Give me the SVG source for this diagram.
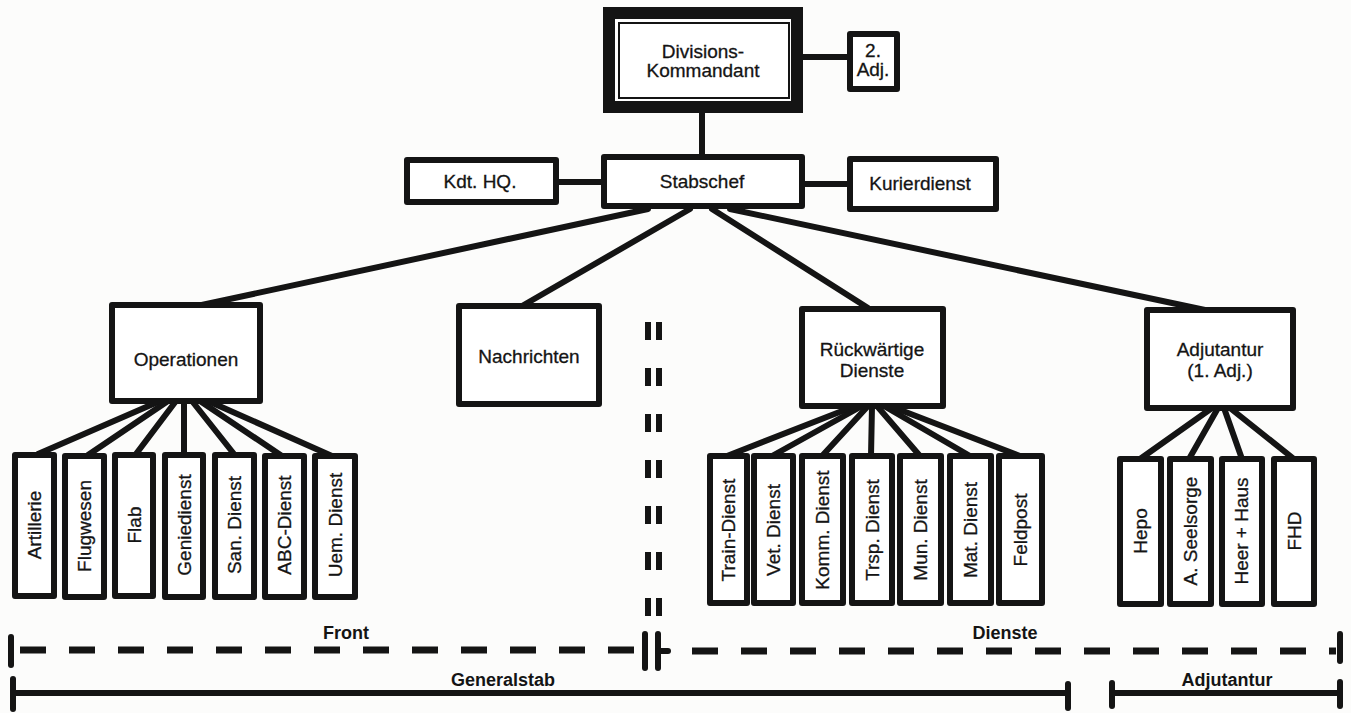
<svg xmlns="http://www.w3.org/2000/svg" width="1351" height="713" viewBox="0 0 1351 713">
<style>
.bg{fill:#fcfcfb}
.box{fill:#fff;stroke:#141414;stroke-width:6;stroke-linejoin:round}
.thick{fill:#fff;stroke:#141414;stroke-width:12}
.thin{fill:none;stroke:#141414;stroke-width:2}
.ln{stroke:#141414;stroke-width:6;stroke-linecap:round;fill:none}
.t{font-family:"Liberation Sans",Arial,sans-serif;font-size:19px;fill:#141414;stroke:#141414;stroke-width:0.3;text-anchor:middle}
.b{font-family:"Liberation Sans",Arial,sans-serif;font-size:18px;font-weight:bold;fill:#141414;text-anchor:middle}
.dash{stroke:#141414;stroke-width:7;fill:none;stroke-dasharray:26 23}
.bar{stroke:#141414;stroke-width:6;fill:none;stroke-linecap:round}
.sep{stroke:#141414;stroke-width:6;fill:none;stroke-dasharray:18 28}
</style>
<rect class="bg" x="0" y="0" width="1351" height="713"/>
<g id="connectors">
<line class="ln" x1="702" y1="112" x2="702" y2="155"/>
<line class="ln" x1="803" y1="57" x2="848" y2="57"/>
<line class="ln" x1="557" y1="182" x2="602" y2="182"/>
<line class="ln" x1="803" y1="184" x2="848" y2="184"/>
<line class="ln" x1="648" y1="209" x2="197" y2="306"/>
<line class="ln" x1="690" y1="209" x2="522" y2="306"/>
<line class="ln" x1="712" y1="209" x2="868" y2="308"/>
<line class="ln" x1="730" y1="209" x2="1205" y2="310"/>
<line class="ln" x1="160" y1="401" x2="38" y2="454"/>
<line class="ln" x1="168" y1="401" x2="88" y2="455"/>
<line class="ln" x1="176" y1="401" x2="136" y2="454"/>
<line class="ln" x1="184" y1="401" x2="184" y2="454"/>
<line class="ln" x1="192" y1="401" x2="234" y2="454"/>
<line class="ln" x1="200" y1="401" x2="282" y2="456"/>
<line class="ln" x1="208" y1="401" x2="332" y2="456"/>
<line class="ln" x1="855" y1="406" x2="727" y2="456"/>
<line class="ln" x1="862" y1="406" x2="772" y2="456"/>
<line class="ln" x1="868" y1="406" x2="822" y2="456"/>
<line class="ln" x1="872" y1="406" x2="871" y2="456"/>
<line class="ln" x1="877" y1="406" x2="920" y2="456"/>
<line class="ln" x1="884" y1="406" x2="970" y2="456"/>
<line class="ln" x1="890" y1="406" x2="1020" y2="456"/>
<line class="ln" x1="1212" y1="408" x2="1140" y2="459"/>
<line class="ln" x1="1218" y1="408" x2="1189" y2="459"/>
<line class="ln" x1="1224" y1="408" x2="1242" y2="459"/>
<line class="ln" x1="1230" y1="408" x2="1294" y2="459"/>
</g>
<g id="divkdt">
<rect class="thick" x="609" y="13" width="188" height="94"/>
<rect class="thin" x="619" y="23" width="170" height="75"/>
<text class="t" x="703" y="58">Divisions-</text>
<text class="t" x="703" y="77">Kommandant</text>
</g>
<g id="adj2">
<rect class="box" x="850" y="34" width="47" height="55"/>
<text class="t" x="873" y="57">2.</text>
<text class="t" x="873" y="76">Adj.</text>
</g>
<g id="stabschef">
<rect class="box" x="604" y="157" width="198" height="49"/>
<text class="t" x="702" y="188">Stabschef</text>
</g>
<g id="kdthq">
<rect class="box" x="407" y="160" width="149" height="42"/>
<text class="t" x="480" y="188">Kdt. HQ.</text>
</g>
<g id="kurier">
<rect class="box" x="850" y="159" width="146" height="50"/>
<text class="t" x="920" y="190">Kurierdienst</text>
</g>
<g id="operationen">
<rect class="box" x="112" y="305" width="148" height="96"/>
<text class="t" x="186" y="366">Operationen</text>
</g>
<g id="nachrichten">
<rect class="box" x="459" y="306" width="140" height="98"/>
<text class="t" x="529" y="363">Nachrichten</text>
</g>
<g id="rueckw">
<rect class="box" x="802" y="309" width="141" height="97"/>
<text class="t" x="872" y="356">Rückwärtige</text>
<text class="t" x="872" y="377">Dienste</text>
</g>
<g id="adjutantur">
<rect class="box" x="1147" y="310" width="146" height="98"/>
<text class="t" x="1220" y="356">Adjutantur</text>
<text class="t" x="1220" y="377">(1. Adj.)</text>
</g>
<g id="artillerie"><rect class="box" x="15" y="455" width="39" height="141"/><text class="t" transform="translate(41,525) rotate(-90)">Artillerie</text></g>
<g id="flugwesen"><rect class="box" x="65" y="456" width="39" height="141"/><text class="t" transform="translate(91,526) rotate(-90)">Flugwesen</text></g>
<g id="flab"><rect class="box" x="115" y="455" width="38" height="141"/><text class="t" transform="translate(141,525) rotate(-90)">Flab</text></g>
<g id="genie"><rect class="box" x="165" y="455" width="38" height="142"/><text class="t" transform="translate(191,525) rotate(-90)">Geniedienst</text></g>
<g id="san"><rect class="box" x="215" y="455" width="39" height="142"/><text class="t" transform="translate(241,525) rotate(-90)">San. Dienst</text></g>
<g id="abc"><rect class="box" x="265" y="456" width="39" height="141"/><text class="t" transform="translate(291,525) rotate(-90)">ABC-Dienst</text></g>
<g id="uem"><rect class="box" x="315" y="456" width="40" height="141"/><text class="t" transform="translate(342,525) rotate(-90)">Uem. Dienst</text></g>
<g id="train"><rect class="box" x="710" y="456" width="37" height="147"/><text class="t" transform="translate(735,530) rotate(-90)">Train-Dienst</text></g>
<g id="vet"><rect class="box" x="754" y="456" width="39" height="147"/><text class="t" transform="translate(780,530) rotate(-90)">Vet. Dienst</text></g>
<g id="komm"><rect class="box" x="802" y="456" width="41" height="147"/><text class="t" transform="translate(829,530) rotate(-90)">Komm. Dienst</text></g>
<g id="trsp"><rect class="box" x="852" y="456" width="40" height="147"/><text class="t" transform="translate(879,530) rotate(-90)">Trsp. Dienst</text></g>
<g id="mun"><rect class="box" x="900" y="456" width="41" height="147"/><text class="t" transform="translate(927,530) rotate(-90)">Mun. Dienst</text></g>
<g id="mat"><rect class="box" x="950" y="456" width="41" height="147"/><text class="t" transform="translate(977,530) rotate(-90)">Mat. Dienst</text></g>
<g id="feldpost"><rect class="box" x="999" y="456" width="43" height="147"/><text class="t" transform="translate(1027,530) rotate(-90)">Feldpost</text></g>
<g id="hepo"><rect class="box" x="1120" y="459" width="41" height="145"/><text class="t" transform="translate(1147,531) rotate(-90)">Hepo</text></g>
<g id="seelsorge"><rect class="box" x="1170" y="459" width="41" height="145"/><text class="t" transform="translate(1197,531) rotate(-90)">A. Seelsorge</text></g>
<g id="heerhaus"><rect class="box" x="1222" y="459" width="40" height="145"/><text class="t" transform="translate(1248,531) rotate(-90)">Heer + Haus</text></g>
<g id="fhd"><rect class="box" x="1274" y="459" width="40" height="145"/><text class="t" transform="translate(1301,531) rotate(-90)">FHD</text></g>
<g id="separator">
<line class="sep" x1="648" y1="322" x2="648" y2="620"/>
<line class="sep" x1="659" y1="322" x2="659" y2="620"/>
</g>
<g id="brackets">
<line class="dash" x1="16" y1="650" x2="640" y2="650" stroke-dashoffset="-4"/>
<line class="bar" x1="11" y1="637" x2="11" y2="665"/>
<line class="bar" x1="645" y1="634" x2="645" y2="668"/>
<line class="bar" x1="658" y1="634" x2="658" y2="668"/>
<line class="dash" x1="692" y1="651" x2="1336" y2="651" stroke-dasharray="22 27"/>
<line class="ln" x1="658" y1="651" x2="668" y2="651"/>
<line class="bar" x1="1340" y1="634" x2="1340" y2="661"/>
<text class="b" x="346" y="639">Front</text>
<text class="b" x="1005" y="639">Dienste</text>
<line class="ln" x1="13" y1="693" x2="1067" y2="693" stroke-width="7"/>
<line class="bar" x1="13" y1="679" x2="13" y2="709"/>
<line class="bar" x1="1068" y1="684" x2="1068" y2="708"/>
<text class="b" x="503" y="686">Generalstab</text>
<line class="ln" x1="1112" y1="693" x2="1339" y2="693"/>
<line class="bar" x1="1112" y1="683" x2="1112" y2="706"/>
<line class="bar" x1="1340" y1="682" x2="1340" y2="706"/>
<text class="b" x="1227" y="686">Adjutantur</text>
</g>
</svg>
